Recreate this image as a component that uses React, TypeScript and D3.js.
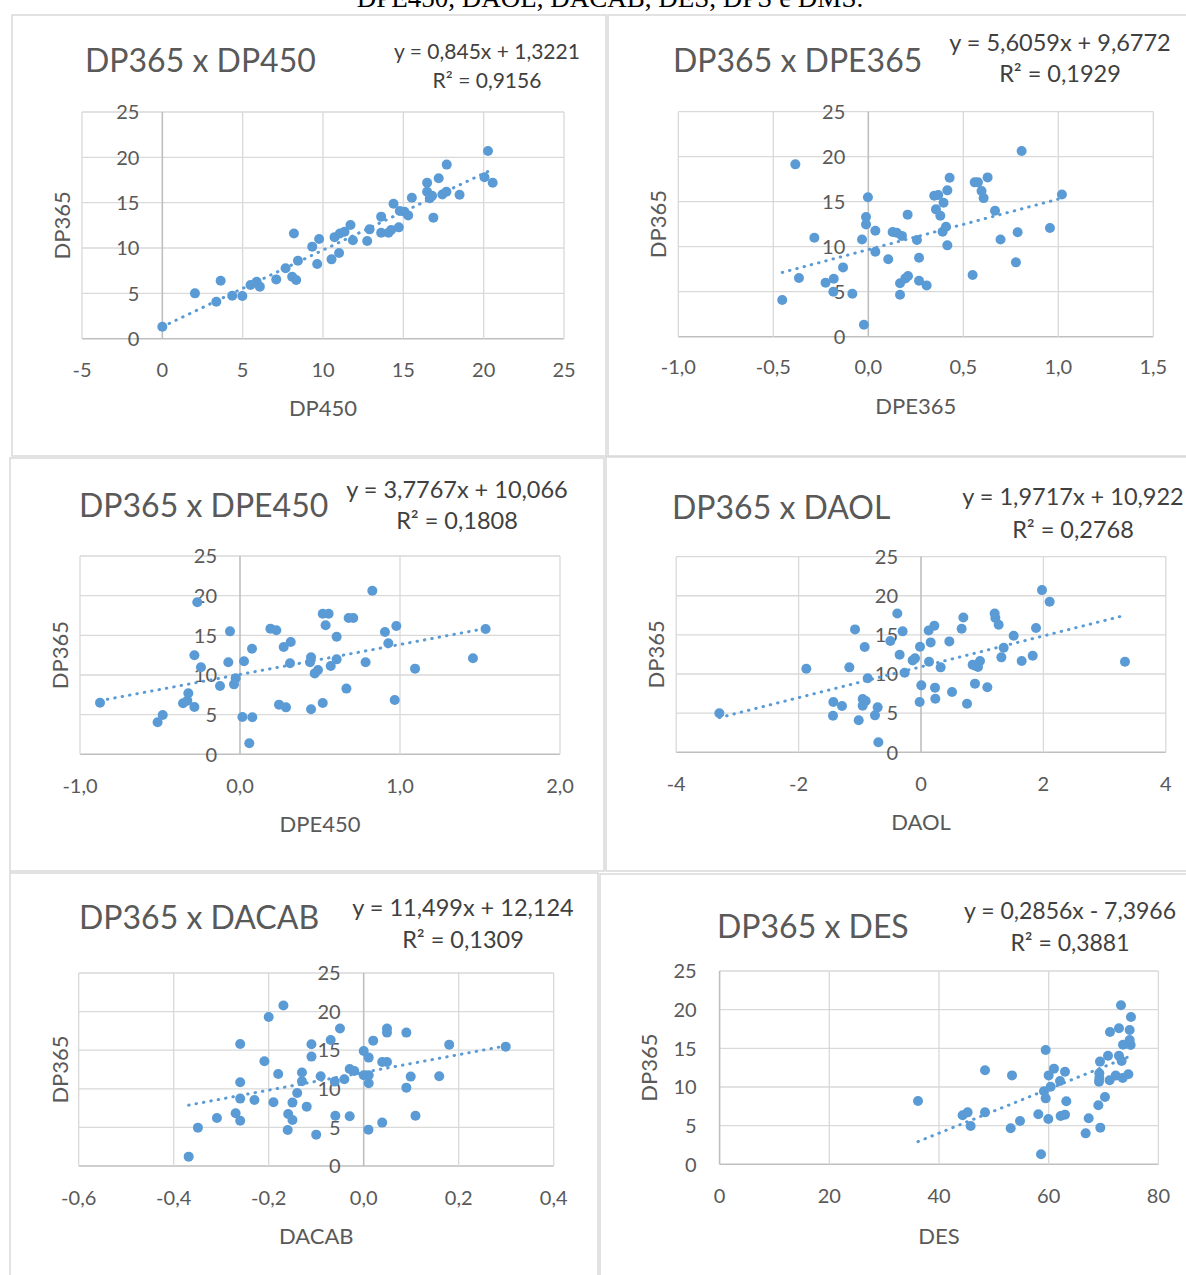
import React from 'react';
import * as d3 from 'd3';

// ---------- DATA ----------
const yTicks = [0, 5, 10, 15, 20, 25];
const dp450Ticks = [-5, 0, 5, 10, 15, 20, 25];
const dpe365Ticks = [-1, -0.5, 0, 0.5, 1, 1.5];
const dpe450Ticks = [-1, 0, 1, 2];
const daolTicks = [-4, -2, 0, 2, 4];
const dacabTicks = [-0.6, -0.4, -0.2, 0, 0.2, 0.4];
const desTicks = [0, 20, 40, 60, 80];

const chartTitles = ['DP365 x DP450', 'DP365 x DPE365', 'DP365 x DPE450', 'DP365 x DAOL', 'DP365 x DACAB', 'DP365 x DES'];
const xAxisTitles = ['DP450', 'DPE365', 'DPE450', 'DAOL', 'DACAB', 'DES'];
const yAxisTitle = 'DP365';
const equationLabels = ['y = 0,845x + 1,3221', 'y = 5,6059x + 9,6772', 'y = 3,7767x + 10,066', 'y = 1,9717x + 10,922', 'y = 11,499x + 12,124', 'y = 0,2856x - 7,3966'];
const r2Labels = ['R² = 0,9156', 'R² = 0,1929', 'R² = 0,1808', 'R² = 0,2768', 'R² = 0,1309', 'R² = 0,3881'];
const trendSlopes = [0.845, 5.6059, 3.7767, 1.9717, 11.499, 0.2856];
const trendIntercepts = [1.3221, 9.6772, 10.066, 10.922, 12.124, -7.3966];
const captionText = 'DPE450, DAOL, DACAB, DES, DPS e DMS.';

const dp450Points: [number, number][] = [
  [0, 1.32], [2.03, 5.0], [3.63, 6.4], [3.36, 4.08], [4.35, 4.74], [4.98, 4.7], [5.49, 5.92], [5.87, 6.29],
  [6.07, 5.74], [7.09, 6.54], [7.67, 7.76], [8.08, 6.84], [8.33, 6.47], [8.19, 11.6], [8.44, 8.6], [9.33, 10.15],
  [9.76, 11.0], [9.64, 8.24], [10.53, 8.75], [11.0, 9.45], [10.72, 11.2], [11.05, 11.6], [11.34, 11.8], [11.71, 12.54],
  [11.86, 10.85], [12.75, 10.77], [12.9, 12.06], [13.62, 13.46], [13.62, 11.69], [14.08, 11.69], [14.24, 11.98],
  [14.72, 12.28], [14.39, 14.89], [14.78, 14.08], [15.07, 14.0], [15.3, 13.6], [15.53, 15.55], [16.48, 17.2],
  [16.48, 16.2], [16.65, 15.48], [16.87, 13.35], [16.79, 15.77], [17.2, 17.7], [17.43, 15.9], [17.68, 16.2],
  [17.7, 19.2], [18.5, 15.88], [20.05, 17.8], [20.27, 20.7], [20.56, 17.2],
];

const dpe365Points: [number, number][] = [
  [-0.453, 4.07], [-0.384, 19.15], [-0.365, 6.52], [-0.284, 11.0], [-0.225, 6.0], [-0.182, 6.44], [-0.184, 5.0],
  [-0.133, 7.7], [-0.084, 4.78], [-0.023, 1.33], [-0.033, 10.8], [-0.012, 13.3], [-0.012, 12.48], [-0.002, 15.5],
  [0.037, 11.78], [0.037, 9.44], [0.105, 8.6], [0.128, 11.63], [0.149, 11.56], [0.177, 11.2], [0.207, 13.56],
  [0.167, 5.93], [0.167, 4.67], [0.195, 6.48], [0.209, 6.74], [0.256, 10.74], [0.267, 8.78], [0.267, 6.22],
  [0.307, 5.7], [0.347, 15.67], [0.368, 15.74], [0.356, 14.15], [0.379, 13.44], [0.396, 14.89], [0.409, 12.22],
  [0.391, 11.67], [0.416, 16.26], [0.428, 17.67], [0.416, 10.15], [0.549, 6.85], [0.56, 17.15], [0.577, 17.15],
  [0.596, 16.19], [0.607, 15.4], [0.628, 17.7], [0.667, 14.0], [0.696, 10.8], [0.777, 8.26], [0.786, 11.6],
  [0.807, 20.63], [0.956, 12.07], [1.019, 15.8],
];

const dpe450Points: [number, number][] = [
  [-0.875, 6.51], [-0.515, 4.03], [-0.483, 4.96], [-0.356, 6.43], [-0.323, 7.69], [-0.329, 6.76], [-0.285, 5.97],
  [-0.285, 12.48], [-0.267, 19.16], [-0.244, 10.97], [-0.125, 8.61], [-0.073, 11.6], [-0.0625, 15.5], [-0.0375, 8.82],
  [-0.027, 9.58], [0.015, 4.7], [0.025, 11.72], [0.058, 1.39], [0.075, 13.3], [0.077, 4.66], [0.19, 15.84],
  [0.227, 15.63], [0.244, 6.26], [0.2875, 5.92], [0.273, 13.53], [0.317, 14.16], [0.3125, 11.47], [0.4375, 11.6],
  [0.444, 12.23], [0.444, 5.67], [0.467, 10.2], [0.4875, 10.63], [0.517, 6.47], [0.517, 17.73], [0.554, 17.73],
  [0.535, 16.26], [0.567, 11.13], [0.604, 14.83], [0.604, 11.97], [0.665, 8.28], [0.679, 17.18], [0.708, 17.18],
  [0.785, 11.6], [0.827, 20.63], [0.906, 15.42], [0.927, 13.99], [0.967, 6.85], [0.977, 16.18], [1.094, 10.8],
  [1.456, 12.1], [1.535, 15.8],
];

const daolPoints: [number, number][] = [
  [-3.295, 4.98], [-1.874, 10.68], [-1.432, 6.43], [-1.438, 4.68], [-1.291, 5.91], [-1.171, 10.85], [-1.078, 15.7],
  [-1.018, 4.09], [-0.953, 6.81], [-0.92, 13.45], [-0.904, 6.55], [-0.953, 5.96], [-0.871, 9.45], [-0.752, 4.72],
  [-0.708, 5.74], [-0.697, 1.28], [-0.501, 14.21], [-0.387, 17.74], [-0.349, 12.47], [-0.3, 15.45], [-0.267, 10.17],
  [-0.136, 11.74], [-0.098, 12.0], [-0.022, 6.43], [-0.016, 13.49], [0.005, 8.55], [0.131, 11.57], [0.125, 15.57],
  [0.158, 14.04], [0.218, 16.17], [0.229, 8.26], [0.234, 6.85], [0.321, 10.85], [0.463, 14.17], [0.507, 7.7],
  [0.664, 15.79], [0.692, 17.23], [0.752, 6.21], [0.844, 11.19], [0.888, 11.06], [0.964, 11.66], [0.931, 10.89],
  [0.882, 8.77], [1.084, 8.3], [1.204, 17.74], [1.215, 17.15], [1.269, 16.3], [1.313, 12.13], [1.351, 13.36],
  [1.514, 14.89], [1.645, 11.66], [1.825, 12.34], [1.879, 15.87], [1.977, 20.72], [2.102, 19.23], [3.333, 11.57],
];

const dacabPoints: [number, number][] = [
  [-0.3685, 1.21], [-0.349, 4.97], [-0.309, 6.22], [-0.2696, 6.83], [-0.26, 5.87], [-0.26, 8.73], [-0.26, 10.84],
  [-0.26, 15.81], [-0.23, 8.55], [-0.209, 13.56], [-0.2, 19.31], [-0.19, 8.25], [-0.18, 11.92], [-0.169, 20.78],
  [-0.159, 6.74], [-0.15, 5.96], [-0.15, 8.21], [-0.16, 4.67], [-0.14, 9.46], [-0.13, 10.97], [-0.13, 12.1],
  [-0.12, 7.69], [-0.11, 14.17], [-0.11, 15.77], [-0.1, 4.06], [-0.0906, 11.62], [-0.0695, 16.33], [-0.0597, 6.52],
  [-0.061, 10.93], [-0.0499, 17.8], [-0.0408, 11.23], [-0.0295, 6.44], [-0.0295, 12.57], [-0.0197, 12.31],
  [0, 14.9], [0, 11.75], [0.01, 4.71], [0.0105, 10.71], [0.0105, 14.04], [0.0105, 11.75], [0.02, 16.24],
  [0.039, 5.62], [0.039, 13.48], [0.049, 13.48], [0.049, 17.8], [0.049, 17.28], [0.0898, 17.28], [0.0898, 10.15],
  [0.099, 11.58], [0.109, 6.52], [0.159, 11.62], [0.18, 15.72], [0.299, 15.46],
];

const desPoints: [number, number][] = [
  [36.17, 8.19], [44.31, 6.34], [45.22, 6.72], [45.77, 4.96], [48.39, 12.16], [48.39, 6.72], [53.07, 4.66],
  [53.31, 11.5], [54.77, 5.6], [58.11, 6.47], [58.6, 1.29], [59.45, 14.78], [59.45, 8.53], [59.14, 9.44],
  [59.93, 5.86], [59.99, 11.5], [60.36, 10.04], [60.96, 12.37], [62.06, 10.78], [62.18, 6.25], [62.97, 6.42],
  [62.97, 11.98], [63.21, 8.15], [66.74, 4.0], [67.29, 5.95], [69.05, 7.63], [69.41, 4.74], [69.17, 10.69],
  [69.23, 11.77], [69.23, 11.16], [69.35, 13.28], [70.26, 8.7], [70.81, 14.05], [71.17, 17.11], [71.11, 10.86],
  [72.21, 11.47], [72.81, 17.59], [72.81, 14.05], [73.3, 13.36], [73.18, 20.56], [73.55, 15.47], [73.49, 11.16],
  [74.52, 11.64], [74.76, 16.08], [74.76, 17.37], [75.0, 19.05], [74.94, 15.43], [74.57, 15.56],
];

const panelPoints = [dp450Points, dpe365Points, dpe450Points, daolPoints, dacabPoints, desPoints];
const panelXTicks = [dp450Ticks, dpe365Ticks, dpe450Ticks, daolTicks, dacabTicks, desTicks];

// ---------- LAYOUT ----------
type Layout = {
  border: [number, number, number, number];
  xRange: [number, number];
  yRange: [number, number];
  titleX: number; titleY: number;
  eqX: number; eqY1: number; eqY2: number; eqSize: number;
  yTitleX: number; xTitleY: number; xTickY: number;
  decimals: number;
};

const layouts: Layout[] = [
  { border: [12, 15, 606, 456], xRange: [82, 564], yRange: [338.7, 112], titleX: 85, titleY: 72, eqX: 487, eqY1: 59, eqY2: 88, eqSize: 21, yTitleX: 62, xTitleY: 408, xTickY: 370, decimals: 0 },
  { border: [608, 15, 1192, 456], xRange: [678.3, 1153.3], yRange: [336.7, 111.7], titleX: 673, titleY: 72, eqX: 1060, eqY1: 51, eqY2: 82, eqSize: 23.5, yTitleX: 658, xTitleY: 406, xTickY: 367, decimals: 1 },
  { border: [10, 458, 604, 871], xRange: [80, 560], yRange: [754.3, 556], titleX: 79, titleY: 517, eqX: 457, eqY1: 498, eqY2: 529, eqSize: 23.5, yTitleX: 60, xTitleY: 824, xTickY: 786, decimals: 1 },
  { border: [606, 457, 1192, 871], xRange: [676.2, 1165.8], yRange: [752.3, 556.6], titleX: 672, titleY: 519, eqX: 1073, eqY1: 505, eqY2: 538, eqSize: 23.5, yTitleX: 656, xTitleY: 822, xTickY: 784, decimals: 0 },
  { border: [10, 873, 598, 1282], xRange: [78.7, 553.7], yRange: [1166, 973], titleX: 79, titleY: 929, eqX: 463, eqY1: 916, eqY2: 948, eqSize: 23.5, yTitleX: 60, xTitleY: 1236, xTickY: 1198, decimals: 1 },
  { border: [600, 874, 1192, 1282], xRange: [719.6, 1158.4], yRange: [1164.3, 971], titleX: 717, titleY: 938, eqX: 1070, eqY1: 919, eqY2: 951, eqSize: 23, yTitleX: 649, xTitleY: 1236, xTickY: 1196, decimals: 0 },
];

const FONT = "Lato, 'Open Sans', sans-serif";
const GRID = '#d9d9d9';
const AXIS = '#bfbfbf';
const TEXT = '#595959';
const DOT = '#5b9bd5';

const locale = d3.formatLocale({ decimal: ',', thousands: '.', grouping: [3], currency: ['', ''], minus: '-' });

function Panel({ idx }: { idx: number }) {
  const L = layouts[idx];
  const pts = panelPoints[idx];
  const xt = panelXTicks[idx];
  const xDomain: [number, number] = [xt[0], xt[xt.length - 1]];
  const x = d3.scaleLinear().domain(xDomain).range(L.xRange);
  const y = d3.scaleLinear().domain([0, 25]).range(L.yRange);
  const fmt = locale.format(L.decimals > 0 ? `.${L.decimals}f` : 'd');
  const axisX = x(Math.max(0, xDomain[0]));
  const [bx0, by0, bx1, by1] = L.border;
  const xs = pts.map((p) => p[0]);
  const xMin = d3.min(xs) as number;
  const xMax = d3.max(xs) as number;
  const a = trendSlopes[idx];
  const b = trendIntercepts[idx];
  const line = d3.line<[number, number]>().x((d) => x(d[0])).y((d) => y(d[1]));
  const trend = line([[xMin, a * xMin + b], [xMax, a * xMax + b]]) || '';
  const yMid = (L.yRange[0] + L.yRange[1]) / 2;
  const xMid = (L.xRange[0] + L.xRange[1]) / 2;

  return (
    <g>
      <rect x={bx0} y={by0} width={bx1 - bx0} height={by1 - by0} fill="white" stroke={GRID} strokeWidth={1.5} />
      {yTicks.map((t) => (
        <line key={'hy' + t} x1={L.xRange[0]} x2={L.xRange[1]} y1={y(t)} y2={y(t)} stroke={t === 0 ? AXIS : GRID} strokeWidth={t === 0 ? 1.6 : 1.3} />
      ))}
      {xt.map((t) => (
        <line key={'vx' + t} x1={x(t)} x2={x(t)} y1={L.yRange[0]} y2={L.yRange[1]} stroke={Math.abs(x(t) - axisX) < 0.5 ? AXIS : GRID} strokeWidth={Math.abs(x(t) - axisX) < 0.5 ? 1.6 : 1.3} />
      ))}
      {yTicks.map((t) => (
        <text key={'yl' + t} x={axisX - 23} y={y(t)} dy="0.36em" textAnchor="end" fontSize={20} fill={TEXT} fontFamily={FONT}>{t}</text>
      ))}
      {xt.map((t) => (
        <text key={'xl' + t} x={x(t)} y={L.xTickY} dy="0.36em" textAnchor="middle" fontSize={20} fill={TEXT} fontFamily={FONT}>{fmt(t)}</text>
      ))}
      {pts.map((p, i) => (
        <circle key={'p' + i} cx={x(p[0])} cy={y(p[1])} r={5} fill={DOT} />
      ))}
      <path d={trend} fill="none" stroke={DOT} strokeWidth={3} strokeLinecap="round" strokeDasharray="0.5 7" />
      <text x={L.titleX} y={L.titleY} fontSize={32} fill={TEXT} fontFamily={FONT}>{chartTitles[idx]}</text>
      <text x={L.eqX} y={L.eqY1} textAnchor="middle" fontSize={L.eqSize} fill="#404040" fontFamily={FONT}>{equationLabels[idx]}</text>
      <text x={L.eqX} y={L.eqY2} textAnchor="middle" fontSize={L.eqSize} fill="#404040" fontFamily={FONT}>{r2Labels[idx]}</text>
      <text x={xMid} y={L.xTitleY} dy="0.36em" textAnchor="middle" fontSize={22} fill={TEXT} fontFamily={FONT}>{xAxisTitles[idx]}</text>
      <text transform={`translate(${L.yTitleX},${yMid}) rotate(-90)`} dy="0.36em" textAnchor="middle" fontSize={22} fill={TEXT} fontFamily={FONT}>{yAxisTitle}</text>
    </g>
  );
}

export default function App() {
  return (
    <svg width={1186} height={1275} style={{ position: 'absolute', left: 0, top: 0, background: 'white' }}>
      <rect x={0} y={0} width={1186} height={1275} fill="white" />
      <text x={610} y={7} textAnchor="middle" fontSize={27} fill="#000" fontFamily="'Liberation Serif', 'Times New Roman', serif">{captionText}</text>
      {layouts.map((_, i) => (
        <Panel key={i} idx={i} />
      ))}
    </svg>
  );
}
